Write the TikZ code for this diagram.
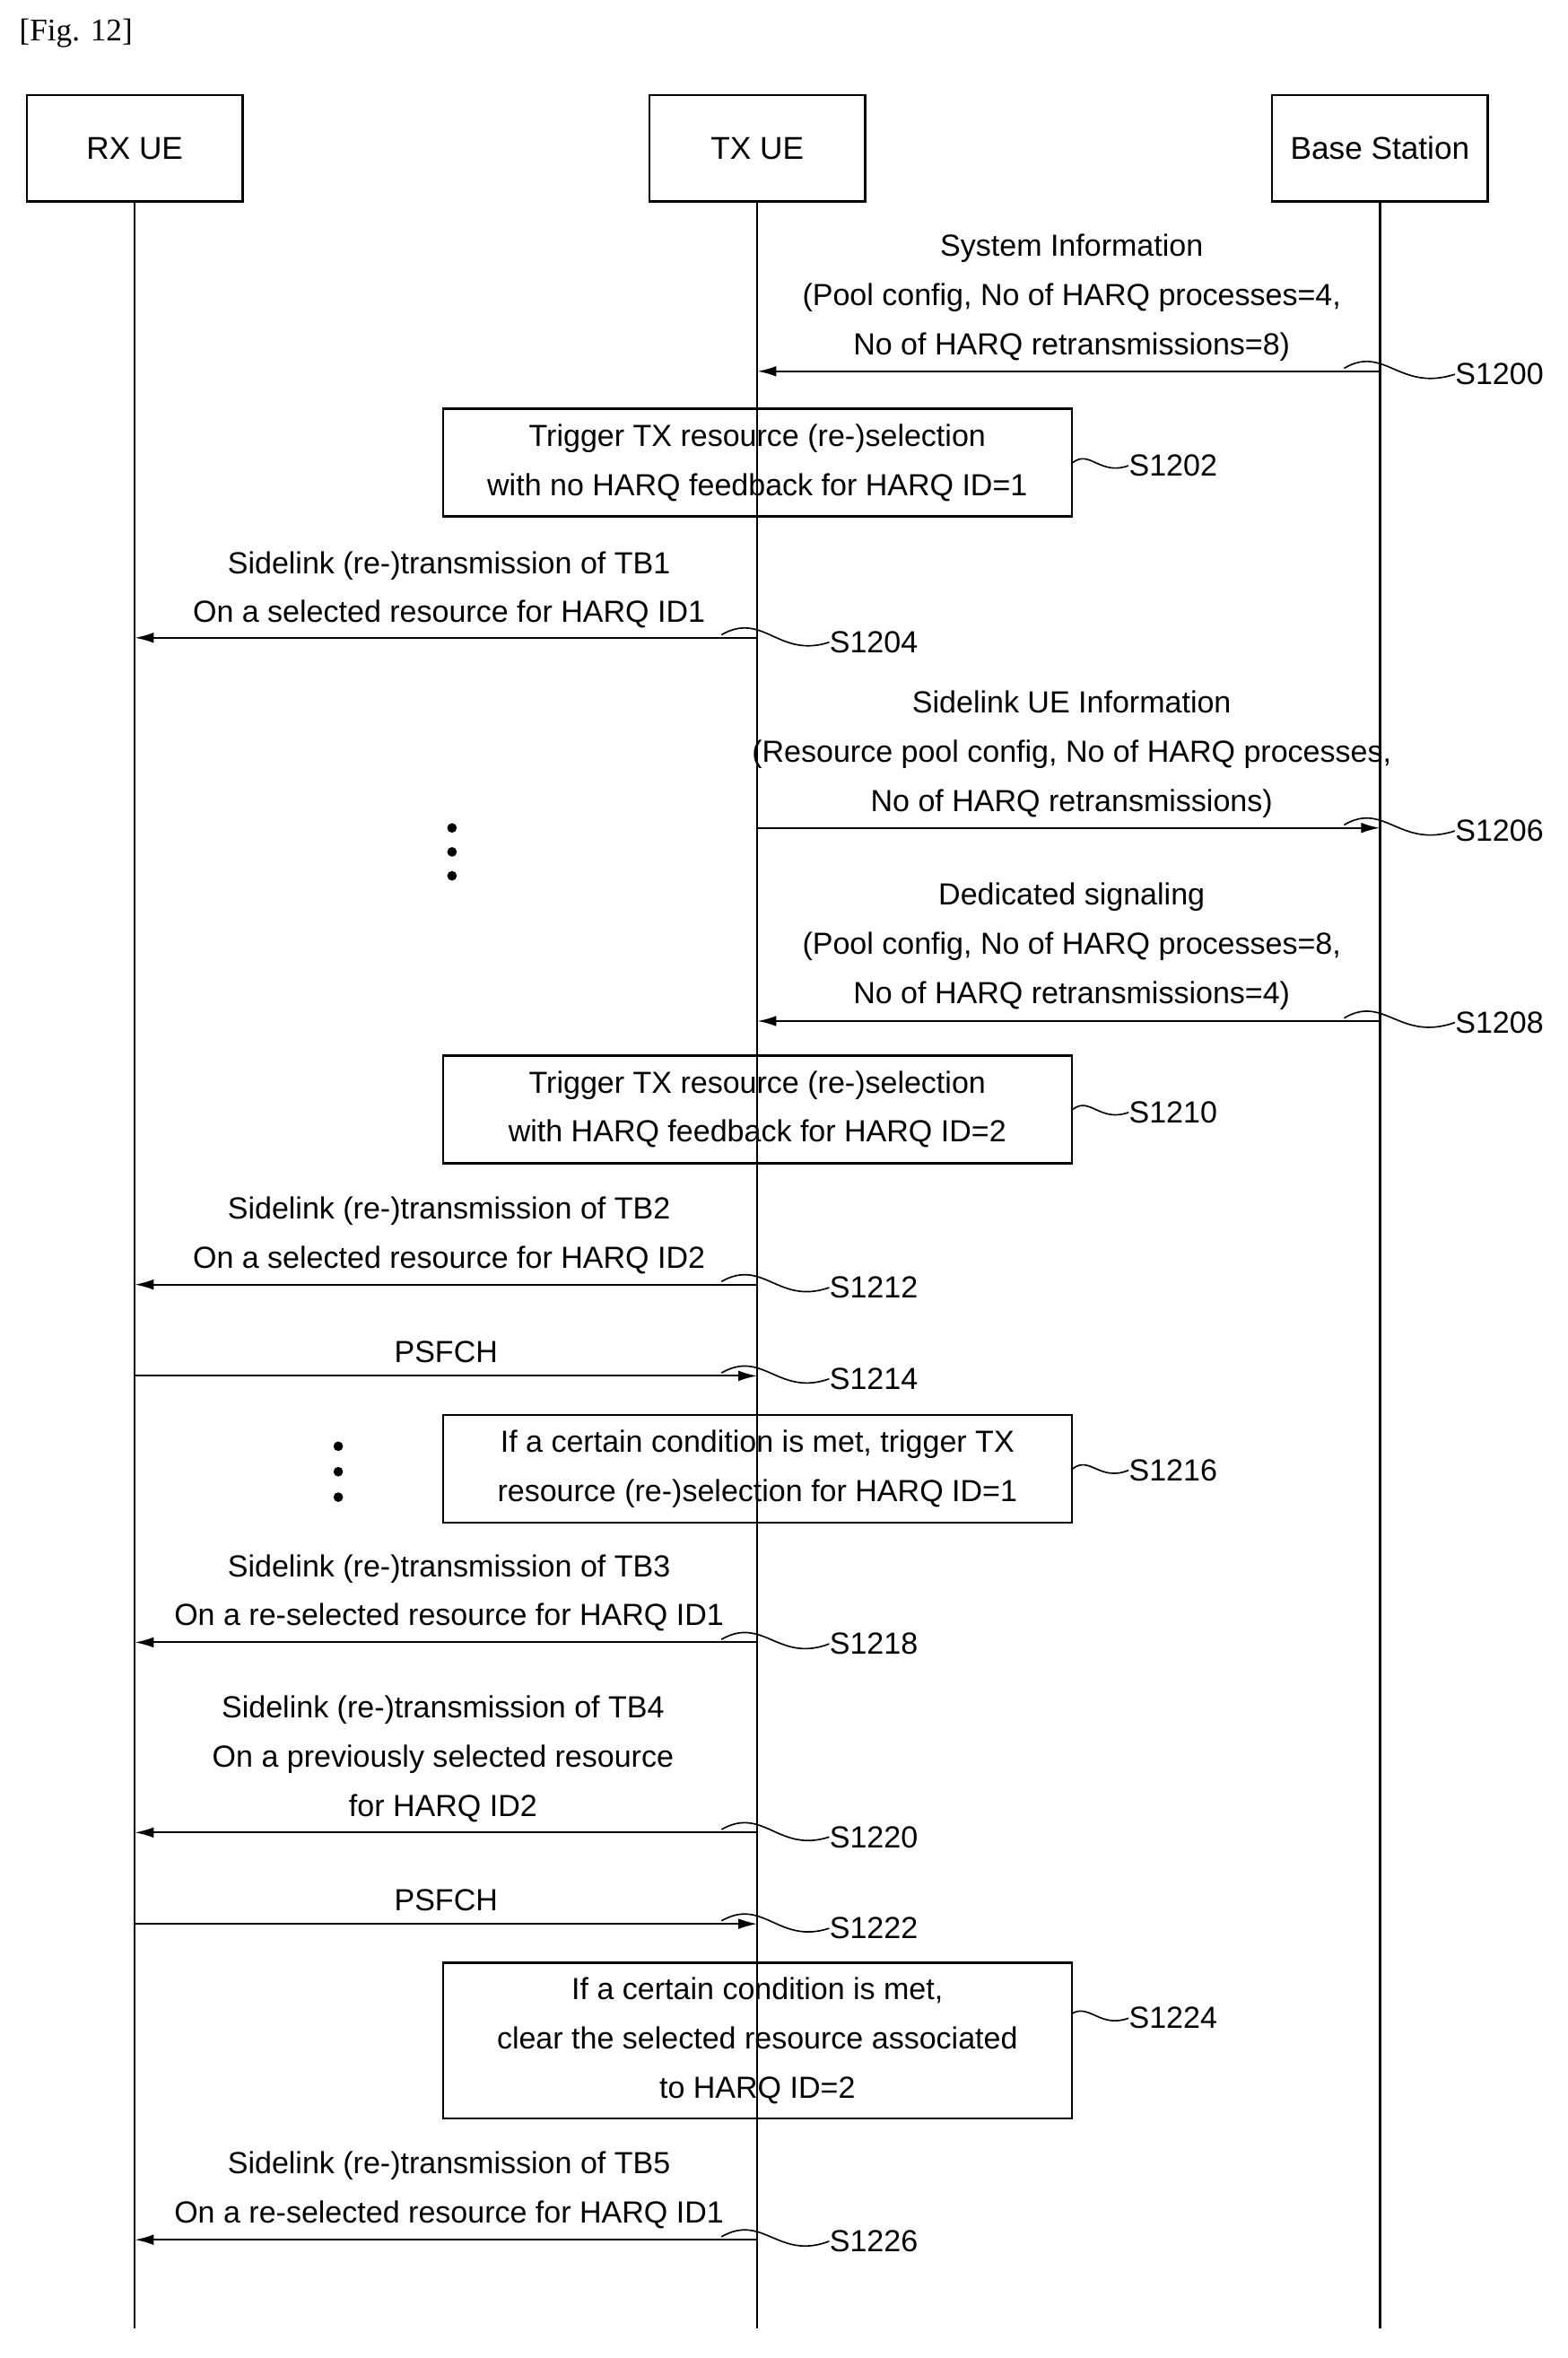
\documentclass[tikz,border=0pt]{standalone}
\usepackage{fontspec}
\setmainfont{Liberation Sans}
\newfontfamily\figfont{Liberation Serif}
\usetikzlibrary{arrows.meta}
\tikzset{
  head/.style={draw, line width=1pt, minimum width=3.6cm, minimum height=1.78cm},
  life/.style={line width=0.9pt},
  msg/.style={line width=0.9pt, -{Latex[length=9pt,width=5pt]}},
  txt/.style={align=center, font=\fontsize{14.5}{23.4}\selectfont, inner sep=0pt},
  steplbl/.style={font=\fontsize{14.5}{17}\selectfont, anchor=west, inner sep=0pt},
  act/.style={draw, line width=1pt, align=center, font=\fontsize{14.5}{23.4}\selectfont},
  sq/.style={line width=0.7pt}
}
\begin{document}
\begin{tikzpicture}[x=0.025cm, y=-0.025cm]
\useasboundingbox (0,0) rectangle (1047,1575);
\node[font=\figfont\fontsize{15}{18}\selectfont, anchor=west] (fig) at (8,22) {[Fig. 12]};
% lifelines
\node[head, font=\fontsize{15}{18}\selectfont] (rx) at (90,99) {RX UE};
\node[head, font=\fontsize{15}{18}\selectfont] (tx) at (506,99) {TX UE};
\node[head, font=\fontsize{15}{18}\selectfont] (bs) at (922,99) {Base Station};
\coordinate (rxend) at (90,1555);
\coordinate (txend) at (506,1555);
\coordinate (bsend) at (922,1555);
\draw[life] (rx) -- (rxend);
\draw[life] (tx) -- (txend);
\draw[life] (bs) -- (bsend);
% S1200
\node[txt] (t1200) at (716,199) {System Information\\(Pool config, No of HARQ processes=4,\\No of HARQ retransmissions=8)};
\draw[msg] (bs |- 0,248) -- (tx |- 0,248);
\node[steplbl] (s1200) at (972,250) {S1200};
\draw[sq] (898,246) .. controls (925,230) and (935,262) .. (s1200.west);
% S1202
\node[act, minimum width=10.5cm, minimum height=1.8cm] (b1202) at (506,309) {Trigger TX resource (re-)selection\\with no HARQ feedback for HARQ ID=1};
\node[steplbl] (s1202) at (754,311) {S1202};
\draw[sq] (b1202.east) .. controls (728,300) and (735,318) .. (s1202.west);
% S1204
\node[txt] (t1204) at (300,394) {Sidelink (re-)transmission of TB1\\On a selected resource for HARQ ID1};
\draw[msg] (tx |- 0,426) -- (rx |- 0,426);
\node[steplbl] (s1204) at (554,429) {S1204};
\draw[sq] (482,424) .. controls (510,408) and (520,440) .. (s1204.west);
% S1206
\node[txt] (t1206) at (716,504) {Sidelink UE Information\\(Resource pool config, No of HARQ processes,\\No of HARQ retransmissions)};
\draw[msg] (tx |- 0,553) -- (bs |- 0,553);
\node[steplbl] (s1206) at (972,555) {S1206};
\draw[sq] (898,551) .. controls (925,535) and (935,567) .. (s1206.west);
\foreach \yy in {553,569,585} \fill (302,\yy) circle (3.2);
% S1208
\node[txt] (t1208) at (716,632) {Dedicated signaling\\(Pool config, No of HARQ processes=8,\\No of HARQ retransmissions=4)};
\draw[msg] (bs |- 0,682) -- (tx |- 0,682);
\node[steplbl] (s1208) at (972,683) {S1208};
\draw[sq] (898,680) .. controls (925,664) and (935,696) .. (s1208.west);
% S1210
\node[act, minimum width=10.5cm, minimum height=1.8cm] (b1210) at (506,741) {Trigger TX resource (re-)selection\\with HARQ feedback for HARQ ID=2};
\node[steplbl] (s1210) at (754,743) {S1210};
\draw[sq] (b1210.east) .. controls (728,732) and (735,750) .. (s1210.west);
% S1212
\node[txt] (t1212) at (300,825) {Sidelink (re-)transmission of TB2\\On a selected resource for HARQ ID2};
\draw[msg] (tx |- 0,858) -- (rx |- 0,858);
\node[steplbl] (s1212) at (554,860) {S1212};
\draw[sq] (482,856) .. controls (510,840) and (520,872) .. (s1212.west);
% S1214
\node[txt] (t1214) at (298,903) {PSFCH};
\draw[msg] (rx |- 0,919) -- (tx |- 0,919);
\node[steplbl] (s1214) at (554,921) {S1214};
\draw[sq] (482,917) .. controls (510,901) and (520,933) .. (s1214.west);
\foreach \yy in {966,983,1000} \fill (226,\yy) circle (3.2);
% S1216
\node[act, minimum width=10.5cm, minimum height=1.8cm] (b1216) at (506,981) {If a certain condition is met, trigger TX\\resource (re-)selection for HARQ ID=1};
\node[steplbl] (s1216) at (754,982) {S1216};
\draw[sq] (b1216.east) .. controls (728,972) and (735,990) .. (s1216.west);
% S1218
\node[txt] (t1218) at (300,1064) {Sidelink (re-)transmission of TB3\\On a re-selected resource for HARQ ID1};
\draw[msg] (tx |- 0,1097) -- (rx |- 0,1097);
\node[steplbl] (s1218) at (554,1098) {S1218};
\draw[sq] (482,1095) .. controls (510,1079) and (520,1111) .. (s1218.west);
% S1220
\node[txt] (t1220) at (296,1175) {Sidelink (re-)transmission of TB4\\On a previously selected resource\\for HARQ ID2};
\draw[msg] (tx |- 0,1224) -- (rx |- 0,1224);
\node[steplbl] (s1220) at (554,1227) {S1220};
\draw[sq] (482,1222) .. controls (510,1206) and (520,1238) .. (s1220.west);
% S1222
\node[txt] (t1222) at (298,1269) {PSFCH};
\draw[msg] (rx |- 0,1285) -- (tx |- 0,1285);
\node[steplbl] (s1222) at (554,1288) {S1222};
\draw[sq] (482,1283) .. controls (510,1267) and (520,1299) .. (s1222.west);
% S1224
\node[act, minimum width=10.5cm, minimum height=2.6cm] (b1224) at (506,1363) {If a certain condition is met,\\clear the selected resource associated\\to HARQ ID=2};
\node[steplbl] (s1224) at (754,1348) {S1224};
\draw[sq] (716,1345) .. controls (728,1338) and (735,1355) .. (s1224.west);
% S1226
\node[txt] (t1226) at (300,1463) {Sidelink (re-)transmission of TB5\\On a re-selected resource for HARQ ID1};
\draw[msg] (tx |- 0,1496) -- (rx |- 0,1496);
\node[steplbl] (s1226) at (554,1497) {S1226};
\draw[sq] (482,1494) .. controls (510,1478) and (520,1510) .. (s1226.west);
\end{tikzpicture}
\end{document}
